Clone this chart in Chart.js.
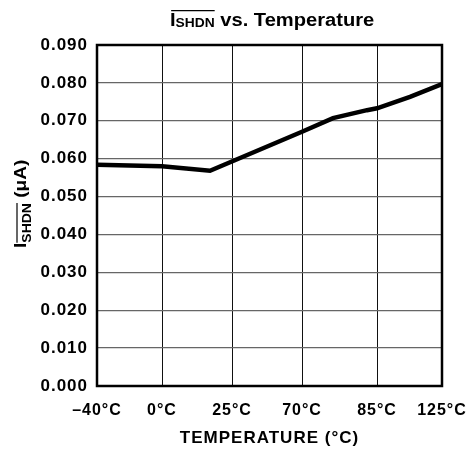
<!DOCTYPE html>
<html>
<head>
	<meta charset="utf-8">
	<title>ISHDN vs. Temperature</title>
	<script src="https://cdn.jsdelivr.net/npm/chart.js@4.4.0/dist/chart.umd.min.js"></script>
	<style>
		html, body { margin: 0; padding: 0; background: #fff; }
		#chart { width: 466px; height: 449px; }
	</style>
</head>
<body>
	<div id="chart">
		<canvas id="myChart" width="466" height="449"></canvas>
	</div>

	<script>
		// x axis positions (0 = left edge, 345 = right edge). The temperature ticks are not evenly spaced in °C
		var tempTickPos = [0, 65, 135, 205, 280, 345];
		var tempTickLabels = ['\u201340\u00b0C', '0\u00b0C', '25\u00b0C', '70\u00b0C', '85\u00b0C', '125\u00b0C'];

		// the ISHDN curve (uA)
		var curvePos = [0, 65, 113, 205, 236, 270, 280, 313, 345];
		var curveIshdn = [0.0584, 0.0580, 0.0568, 0.0671, 0.0707, 0.0728, 0.0733, 0.0763, 0.0797];

		// y axis ticks
		var yTickVals = [0, 0.01, 0.02, 0.03, 0.04, 0.05, 0.06, 0.07, 0.08, 0.09];
		var yTickLabels = ['0.000', '0.010', '0.020', '0.030', '0.040', '0.050', '0.060', '0.070', '0.080', '0.090'];

		var FONT = "'Liberation Sans', Arial, Helvetica, sans-serif";

		// draws text pieces one after the other, subscript pieces get a smaller size and lower baseline
		// returns where each piece started / ended, so an overline can be put on one of them
		function drawPieces(ctx, pieces) {
			var x = 0;
			var spans = [];
			for (var i = 0; i < pieces.length; i++) {
				var p = pieces[i];
				ctx.font = 'bold ' + p.size + 'px ' + FONT;
				ctx.fillText(p.text, x, p.dy);
				var w = ctx.measureText(p.text).width;
				spans.push([x, x + w]);
				x += w;
			}
			return spans;
		}

		var textPlugin = {
			id: 'textPlugin',
			beforeDraw: function(chart) {
				// original font runs a bit wider than Arial
				chart.ctx.letterSpacing = '1px';
			},
			afterDatasetsDraw: function(chart) {
				var ctx = chart.ctx;
				var a = chart.chartArea;
				ctx.save();
				ctx.strokeStyle = '#000';
				ctx.lineWidth = 2.5;
				ctx.strokeRect(a.left, a.top, a.right - a.left, a.bottom - a.top);
				ctx.restore();
			},
			afterDraw: function(chart) {
				var ctx = chart.ctx;
				ctx.save();
				ctx.letterSpacing = '0px';
				ctx.fillStyle = '#000';
				ctx.strokeStyle = '#000';
				ctx.textBaseline = 'alphabetic';
				ctx.textAlign = 'left';

				// title : I(SHDN) vs. Temperature
				ctx.save();
				ctx.translate(170, 25.5);
				ctx.scale(1.15, 1);
				var s = drawPieces(ctx, [
					{text: 'I', size: 17.5, dy: 0},
					{text: 'SHDN', size: 12, dy: 1.5},
					{text: ' vs. Temperature', size: 17.5, dy: 0}
				]);
				ctx.lineWidth = 1.2;
				ctx.beginPath();
				ctx.moveTo(s[0][0] + 1, -14.8);
				ctx.lineTo(s[1][1], -14.8);
				ctx.stroke();
				ctx.restore();

				// y axis title, rotated
				ctx.save();
				ctx.translate(26, 248);
				ctx.rotate(-Math.PI / 2);
				ctx.scale(1.12, 1);
				var s2 = drawPieces(ctx, [
					{text: 'I', size: 17, dy: 0},
					{text: 'SHDN', size: 12.5, dy: 4.5},
					{text: ' (\u03bcA)', size: 17, dy: 0}
				]);
				ctx.lineWidth = 1.2;
				ctx.beginPath();
				ctx.moveTo(s2[1][0], -9);
				ctx.lineTo(s2[1][1], -9);
				ctx.stroke();
				ctx.restore();

				ctx.restore();
			}
		};

		var points = [];
		for (var i = 0; i < curvePos.length; i++) {
			points.push({x: curvePos[i], y: curveIshdn[i]});
		}

		var ctx = document.getElementById('myChart').getContext('2d');
		var chart = new Chart(ctx, {
			type: 'line',
			data: {
				datasets: [{
					label: 'ISHDN',
					data: points,
					borderColor: '#000',
					borderWidth: 4.5,
					pointRadius: 0,
					tension: 0,
					fill: false
				}]
			},
			options: {
				responsive: false,
				animation: false,
				devicePixelRatio: 1,
				layout: {
					padding: {top: 45, right: 24, bottom: 0, left: 0}
				},
				plugins: {
					legend: {display: false},
					title: {display: false},
					tooltip: {enabled: false}
				},
				scales: {
					x: {
						type: 'linear',
						min: tempTickPos[0],
						max: tempTickPos[tempTickPos.length - 1],
						afterBuildTicks: function(scale) {
							scale.ticks = tempTickPos.map(function(v) { return {value: v}; });
						},
						afterFit: function(scale) {
							scale.height = 63;
							scale.paddingLeft = 0;
							scale.paddingRight = 0;
						},
						grid: {color: '#111', lineWidth: 1, drawTicks: false},
						border: {display: false},
						ticks: {
							padding: 15,
							maxRotation: 0,
							autoSkip: false,
							color: '#000',
							font: {family: FONT, size: 16, weight: 'bold'},
							callback: function(value, index) { return tempTickLabels[index]; }
						},
						title: {
							display: true,
							text: 'TEMPERATURE (\u00b0C)',
							color: '#000',
							font: {family: FONT, size: 17, weight: 'bold'},
							padding: {top: 0, bottom: 0}
						}
					},
					y: {
						min: yTickVals[0],
						max: yTickVals[yTickVals.length - 1],
						afterBuildTicks: function(scale) {
							scale.ticks = yTickVals.map(function(v) { return {value: v}; });
						},
						afterFit: function(scale) {
							scale.width = 97;
						},
						grid: {color: '#666', lineWidth: 1.3, drawTicks: false},
						border: {display: false},
						ticks: {
							padding: 9,
							color: '#000',
							font: {family: FONT, size: 17, weight: 'bold'},
							callback: function(value, index) { return yTickLabels[index]; }
						}
					}
				}
			},
			plugins: [textPlugin]
		});
	</script>
</body>
</html>
